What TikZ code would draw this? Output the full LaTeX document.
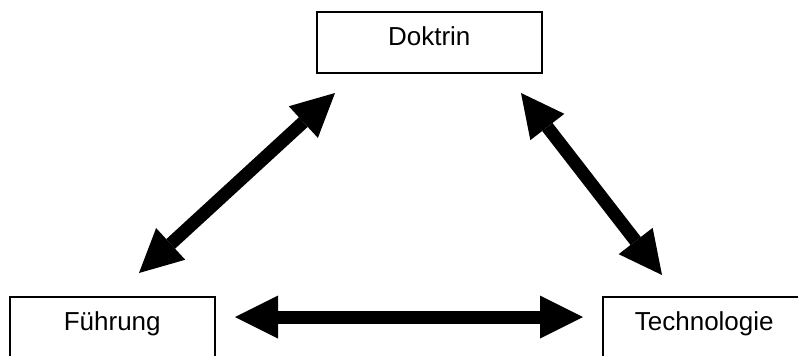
\documentclass[tikz,border=0pt]{standalone}
\usepackage{fontspec}
\setmainfont{Liberation Sans}
\usetikzlibrary{arrows.meta}
\tikzset{
  box/.style={draw, line width=1.5pt, rectangle, anchor=north west, inner sep=0pt,
    text height=34pt, text depth=27pt, align=center,
    font=\fontsize{26}{30}\selectfont},
  bigarrow/.style={line width=13pt,
    {Triangle[length=43pt 0,width=43pt 0,line width=0pt 0]}-{Triangle[length=43pt 0,width=43pt 0,line width=0pt 0]}}
}
\begin{document}
\begin{tikzpicture}[x=1pt,y=-1pt]
\useasboundingbox (0,0) rectangle (798,356);
\clip (0,0) rectangle (798,356);
\node[box, minimum width=225pt] (dok) at (316,11) {Doktrin};
\node[box, minimum width=205pt] (fue) at (9,296) {Führung};
\node[box, minimum width=203pt] (tec) at (602,296) {Technologie};
\coordinate (dl) at (335,93);
\coordinate (fu) at (139,273);
\coordinate (dr) at (521,93);
\coordinate (tu) at (662,275);
\coordinate (fr) at (235,317);
\coordinate (tl) at (583,317);
\draw[bigarrow] (dl) -- (fu);
\draw[bigarrow] (dr) -- (tu);
\draw[bigarrow] (fr) -- (tl);
\end{tikzpicture}
\end{document}
